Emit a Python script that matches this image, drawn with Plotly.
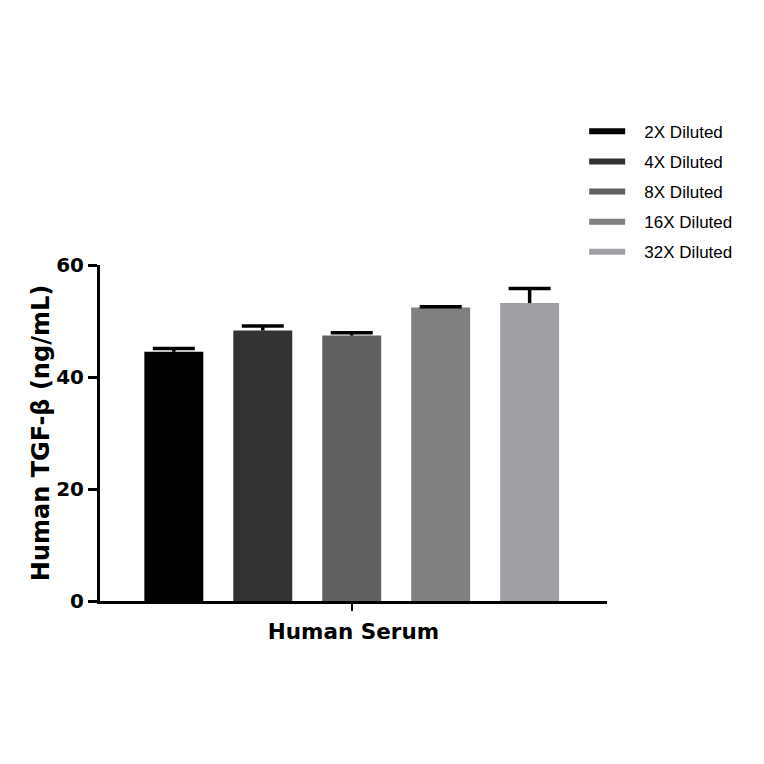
import plotly.graph_objects as go

CATEGORY = "Human Serum"
DILUTIONS = ["2X Diluted", "4X Diluted", "8X Diluted", "16X Diluted", "32X Diluted"]
MEANS = [44.5, 48.3, 47.4, 52.4, 53.2]
ERR_UP = [0.6, 0.8, 0.5, 0.15, 2.6]
COLORS = ["#000000", "#333333", "#606060", "#808080", "#a0a0a4"]

BOLD = "DejaVu Sans"
LEGEND_FONT = "Liberation Sans"

fig = go.Figure()

for name, mean, err, color in zip(DILUTIONS, MEANS, ERR_UP, COLORS):
    fig.add_trace(
        go.Bar(
            x=[name],
            y=[mean],
            name=name,
            marker={"color": color, "line": {"width": 0}},
            showlegend=False,
        )
    )
    # upper-only error bar: stem via error_y, cap via a line marker
    fig.add_trace(
        go.Scatter(
            x=[name],
            y=[mean + err],
            mode="markers",
            marker={"symbol": "line-ew", "size": 30, "line": {"color": "black", "width": 3.5}},
            error_y={
                "type": "data",
                "symmetric": False,
                "array": [0],
                "arrayminus": [err],
                "color": "black",
                "thickness": 3.5,
                "width": 0,
            },
            showlegend=False,
            hoverinfo="skip",
        )
    )
    # legend swatch drawn as a thick line, like the original
    fig.add_trace(
        go.Scatter(
            x=[None],
            y=[None],
            mode="lines",
            name="\u00a0\u00a0\u00a0" + name,
            legendgroup=name,
            line={"color": color, "width": 6},
        )
    )

# the page adds an 8px body margin, so the figure is laid out 8px smaller
fig.update_layout(
    width=756,
    height=756,
    paper_bgcolor="white",
    plot_bgcolor="white",
    bargap=0.337,
    margin={"l": 92, "r": 157, "t": 257, "b": 163},
    font={"family": BOLD, "color": "black"},
    legend={
        "x": 0.955,
        "y": 1.45,
        "xanchor": "left",
        "yanchor": "top",
        "font": {"size": 17, "family": LEGEND_FONT},
        "tracegroupgap": 5,
        "itemwidth": 36,
        "bgcolor": "rgba(0,0,0,0)",
    },
)

fig.update_yaxes(
    range=[0, 60],
    tickvals=[0, 20, 40, 60],
    ticks="outside",
    ticklen=9,
    tickwidth=3,
    tickcolor="black",
    showline=True,
    linewidth=3,
    linecolor="black",
    showgrid=False,
    zeroline=False,
    automargin=False,
    tickfont={"size": 20, "family": BOLD, "weight": "bold"},
    title={
        "text": "<b>Human TGF-β (ng/mL)</b>",
        "font": {"size": 24, "family": BOLD},
        "standoff": 0,
    },
)

fig.update_xaxes(
    categoryorder="array",
    categoryarray=DILUTIONS,
    range=[-0.83, 4.87],
    tickvals=[DILUTIONS[2]],
    ticks="outside",
    ticklen=7,
    tickwidth=2,
    tickcolor="black",
    showticklabels=False,
    showline=True,
    linewidth=3,
    linecolor="black",
    showgrid=False,
    automargin=False,
    title={
        "text": "<b>" + CATEGORY + "</b>",
        "font": {"size": 21.5, "family": BOLD},
        "standoff": 14,
    },
)

fig.write_html("out.html")
